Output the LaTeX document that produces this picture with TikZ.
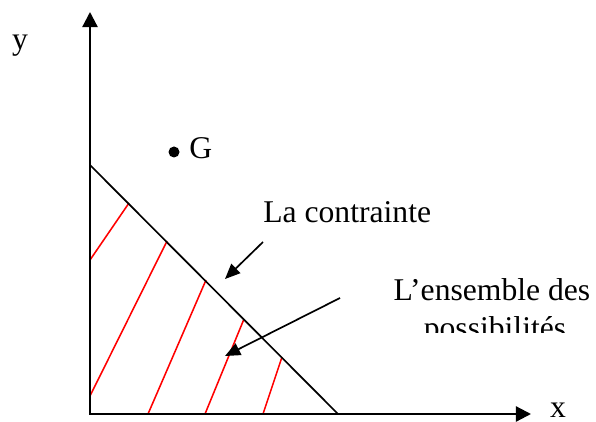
\documentclass[tikz,border=0pt]{standalone}
\usepackage{fontspec}
\setmainfont{Liberation Serif}
\usepackage{xcolor}
\usetikzlibrary{calc,arrows.meta}
\definecolor{redh}{HTML}{FF0000}
\tikzset{
  axe/.style={{Triangle[length=3.8mm,width=3.8mm]}-{Triangle[length=3.8mm,width=3.8mm]},line width=1.6pt},
  ar/.style={-{Triangle[length=3.8mm,width=3.2mm]},line width=1.2pt},
  hach/.style={redh,line width=1.1pt},
  lbl/.style={font=\fontsize{22.5}{27}\selectfont,inner sep=0pt}
}

\begin{document}
\begin{tikzpicture}[x=0.025cm,y=0.025cm]
\useasboundingbox (0,0) rectangle (596,421);
\coordinate (O) at (90,7); \coordinate (ytop) at (90,409); \coordinate (xend) at (531,7);
\coordinate (A) at (90,256); \coordinate (B) at (338,7);
% hachures de l'ensemble
\foreach \xa/\ya/\xb/\yb in {90/161/129/218, 90/25/167/180, 148/7/206/141, 205/7/244/102, 263/7/282/64}
  \draw[hach] (\xa,\ya) -- (\xb,\yb);
\draw[axe] (ytop) -- (O) -- (xend);
\draw[line width=1.2pt] (A) -- (B);
\node[lbl,anchor=base] (ly) at (20,371) {y};
\node[lbl,anchor=base] (lx) at (558,4) {x};
\fill (174,269) circle (5.5);
\node[lbl,anchor=base west] (g) at (189,262) {G};
\node[lbl,anchor=base west] (contr) at (263,198) {La contrainte};
\node[lbl,anchor=base] (ens) at (492,121) {L’ensemble des};
\begin{scope}
  \clip (380,89) rectangle (596,140);
  \node[lbl,anchor=base] (poss) at (495,83) {possibilités};
\end{scope}
\coordinate (c1) at (263,179); \coordinate (t1) at (225,142);
\coordinate (c2) at (340,123); \coordinate (t2) at (225,65);
\draw[ar] (c1) -- (t1);
\draw[ar] (c2) -- (t2);
\end{tikzpicture}
\end{document}
